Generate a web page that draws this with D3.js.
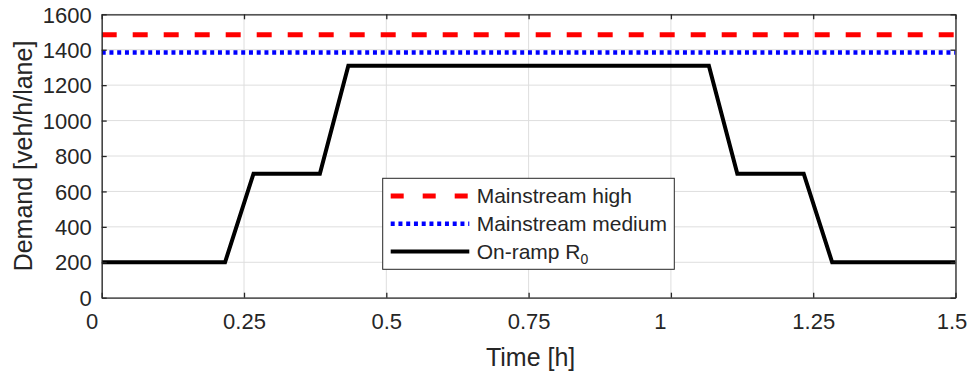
<!DOCTYPE html>
<html><head><meta charset="utf-8">
<script src="https://cdn.jsdelivr.net/npm/d3@7"></script>
<style>body{margin:0;background:#fff}svg{display:block}text{font-family:"Liberation Sans",Arial,sans-serif;fill:#262626}</style>
</head><body>
<svg id="c" width="969" height="374"></svg>
<script>
const timeH = [0, 0.2167, 0.2667, 0.3833, 0.4333, 1.0667, 1.1167, 1.2333, 1.2833, 1.5];
const onRamp = [200, 200, 700, 700, 1310, 1310, 700, 700, 200, 200];
const mainHighTime = [0, 1.5];
const mainHigh = [1485, 1485];
const mainMediumTime = [0, 1.5];
const mainMedium = [1385, 1385];
const xTicks = [0, 0.25, 0.5, 0.75, 1, 1.25, 1.5];
const xTickLabels = ["0", "0.25", "0.5", "0.75", "1", "1.25", "1.5"];
const yTicks = [0, 200, 400, 600, 800, 1000, 1200, 1400, 1600];
const legendLabels = ["Mainstream high", "Mainstream medium", "On-ramp R"];

const svg = d3.select("#c");
const L = 101.7, R = 955.5, T = 14.3, B = 297.7;
const x = d3.scaleLinear().domain([0, 1.5]).range([L, R]);
const y = d3.scaleLinear().domain([0, 1600]).range([B, T]);
const ax = "#262626";

// grid
const g = svg.append("g");
g.selectAll(".gx").data(xTicks).enter().append("line")
  .attr("x1", d => x(d)).attr("x2", d => x(d)).attr("y1", T).attr("y2", B)
  .attr("stroke", "#dedede").attr("stroke-width", 1);
g.selectAll(".gy").data(yTicks).enter().append("line")
  .attr("y1", d => y(d)).attr("y2", d => y(d)).attr("x1", L).attr("x2", R)
  .attr("stroke", "#dedede").attr("stroke-width", 1);

// clip
svg.append("clipPath").attr("id", "clip").append("rect")
  .attr("x", L).attr("y", T).attr("width", R - L).attr("height", B - T);

const line = d3.line().x(d => x(d[0])).y(d => y(d[1]));
const plot = svg.append("g").attr("clip-path", "url(#clip)");
plot.append("path").datum(d3.zip(mainHighTime, mainHigh)).attr("d", line)
  .attr("fill", "none").attr("stroke", "#ff0000").attr("stroke-width", 5).attr("stroke-dasharray", "15,16");
plot.append("path").datum(d3.zip(mainMediumTime, mainMedium)).attr("d", line)
  .attr("fill", "none").attr("stroke", "#0000ff").attr("stroke-width", 4.5).attr("stroke-dasharray", "4,3.75");
plot.append("path").datum(d3.zip(timeH, onRamp)).attr("d", line)
  .attr("fill", "none").attr("stroke", "#000").attr("stroke-width", 4).attr("stroke-linejoin", "miter");

// axes
const xAxisB = d3.axisBottom(x).tickValues(xTicks).tickFormat((d, i) => xTickLabels[i]).tickSizeInner(-5).tickSizeOuter(0).tickPadding(16);
const xAxisT = d3.axisTop(x).tickValues(xTicks).tickFormat("").tickSizeInner(-5).tickSizeOuter(0);
const yAxisL = d3.axisLeft(y).tickValues(yTicks).tickFormat(d3.format("d")).tickSizeInner(-5).tickSizeOuter(0).tickPadding(10);
const yAxisR = d3.axisRight(y).tickValues(yTicks).tickFormat("").tickSizeInner(-5).tickSizeOuter(0);
function style(sel) {
  sel.select(".domain").attr("stroke", ax).attr("stroke-width", 1.3);
  sel.selectAll(".tick line").attr("stroke", ax).attr("stroke-width", 1.3);
  sel.selectAll(".tick text").attr("font-size", 22).attr("font-family", "Liberation Sans, Arial, sans-serif").attr("fill", ax);
}
const xb = svg.append("g").attr("transform", `translate(0,${B})`).call(xAxisB).call(style);
// label placement nudges seen in the reference (integer labels sit left of their ticks)
const labelNudge = {"0": -10, "1": -11, "1.5": -4};
xb.selectAll(".tick text").attr("dx", (d, i) => labelNudge[xTickLabels[i]] || 0);
svg.append("g").attr("transform", `translate(0,${T})`).call(xAxisT).call(style);
svg.append("g").attr("transform", `translate(${L},0)`).call(yAxisL).call(style)
  .selectAll(".tick text").attr("dy", "0.35em");
svg.append("g").attr("transform", `translate(${R},0)`).call(yAxisR).call(style);

// labels
svg.append("text").attr("x", (L + R) / 2 + 2).attr("y", 366).attr("text-anchor", "middle")
  .attr("font-size", 25).text("Time [h]");
svg.append("text").attr("transform", `translate(32,${(T + B) / 2}) rotate(-90)`).attr("text-anchor", "middle")
  .attr("font-size", 25).text("Demand [veh/h/lane]");

// legend
const lg = svg.append("g");
lg.append("rect").attr("x", 382.7).attr("y", 178.3).attr("width", 291.6).attr("height", 91)
  .attr("fill", "#fff").attr("stroke", ax).attr("stroke-width", 1);
const styles = [
  {c: "#ff0000", w: 5, da: "13,19"},
  {c: "#0000ff", w: 4.5, da: "4,3.75"},
  {c: "#000", w: 4, da: null}
];
legendLabels.forEach((lab, i) => {
  const cy = 196 + i * 27.8;
  const ln = lg.append("line").attr("x1", 390.7).attr("x2", 469.3).attr("y1", cy).attr("y2", cy)
    .attr("stroke", styles[i].c).attr("stroke-width", styles[i].w);
  if (styles[i].da) ln.attr("stroke-dasharray", styles[i].da);
  const t = lg.append("text").attr("x", 476.7).attr("y", cy).attr("dy", "0.35em").attr("font-size", 21).text(lab);
  if (i === 2) t.append("tspan").attr("font-size", 14).attr("dy", "0.35em").text("0");
});
</script>
</body></html>
